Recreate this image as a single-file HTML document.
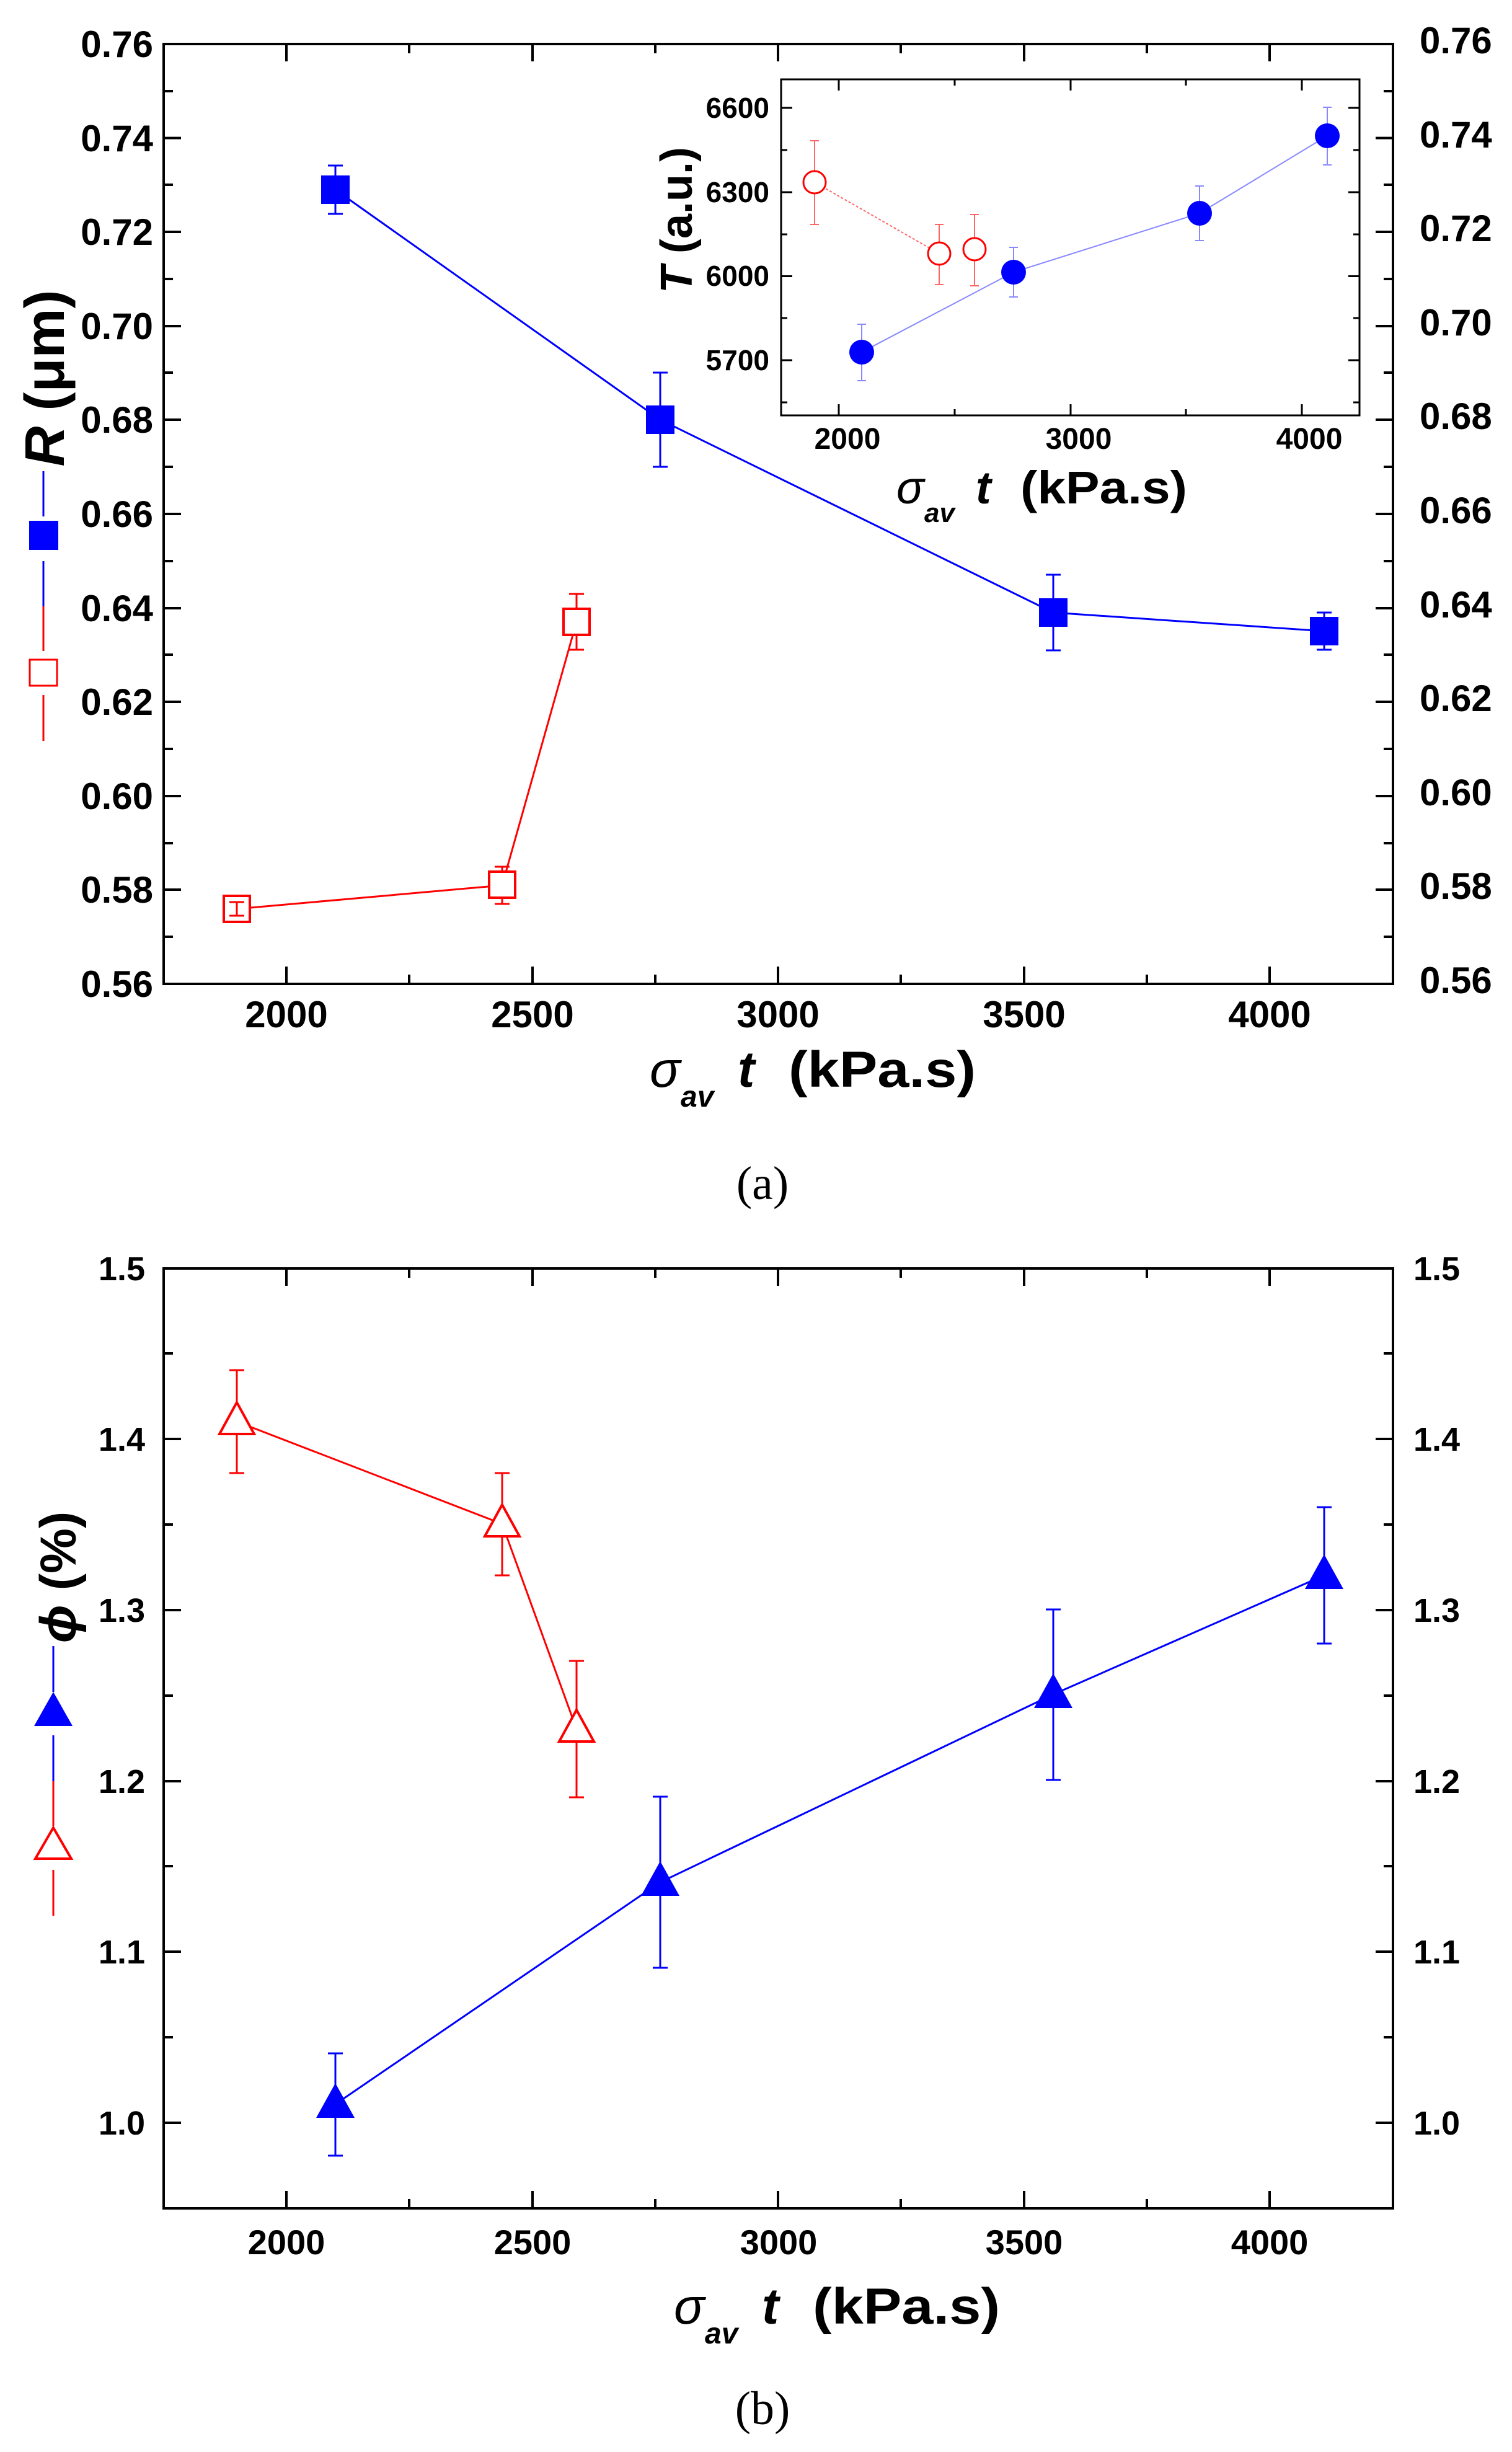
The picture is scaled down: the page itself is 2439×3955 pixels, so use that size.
<!DOCTYPE html>
<html><head><meta charset="utf-8"><style>
html,body{margin:0;padding:0;background:#fff;}
svg{display:block;}
text{font-family:"Liberation Sans",Arial,sans-serif;}
</style></head><body>
<svg width="2439" height="3955" viewBox="0 0 2439 3955" xmlns="http://www.w3.org/2000/svg">
<rect width="2439" height="3955" fill="#fff"/>

<g stroke="#000" stroke-width="4" fill="none">
<rect x="264" y="71" width="1983" height="1516"/>
</g>
<g stroke="#000" stroke-width="4">
<path d="M462,1587v-28M859,1587v-28M1255,1587v-28M1652,1587v-28M2048,1587v-28
M462,71v28M859,71v28M1255,71v28M1652,71v28M2048,71v28
M660,1587v-15M1057,1587v-15M1453,1587v-15M1850,1587v-15
M660,71v15M1057,71v15M1453,71v15M1850,71v15"/>
<path d="M264,222.6h28M264,374h28M264,526h28M264,677h28M264,829h28M264,981h28M264,1132h28M264,1284h28M264,1435h28
M2247,222.6h-28M2247,374h-28M2247,526h-28M2247,677h-28M2247,829h-28M2247,981h-28M2247,1132h-28M2247,1284h-28M2247,1435h-28
M264,147h15M264,298h15M264,450h15M264,601h15M264,753h15M264,905h15M264,1056h15M264,1208h15M264,1360h15M264,1511h15
M2247,147h-15M2247,298h-15M2247,450h-15M2247,601h-15M2247,753h-15M2247,905h-15M2247,1056h-15M2247,1208h-15M2247,1360h-15M2247,1511h-15"/>
</g>
<g font-size="60" font-weight="bold" text-anchor="end">
<text x="247" y="92">0.76</text><text x="247" y="244">0.74</text><text x="247" y="395">0.72</text>
<text x="247" y="547">0.70</text><text x="247" y="698">0.68</text><text x="247" y="850">0.66</text>
<text x="247" y="1002">0.64</text><text x="247" y="1153">0.62</text><text x="247" y="1305">0.60</text>
<text x="247" y="1456">0.58</text><text x="247" y="1608">0.56</text>
</g>
<g font-size="60" font-weight="bold" text-anchor="start">
<text x="2290" y="86">0.76</text><text x="2290" y="238">0.74</text><text x="2290" y="389">0.72</text>
<text x="2290" y="541">0.70</text><text x="2290" y="692">0.68</text><text x="2290" y="844">0.66</text>
<text x="2290" y="996">0.64</text><text x="2290" y="1147">0.62</text><text x="2290" y="1299">0.60</text>
<text x="2290" y="1450">0.58</text><text x="2290" y="1602">0.56</text>
</g>
<g font-size="60" font-weight="bold" text-anchor="middle">
<text x="462" y="1657">2000</text><text x="859" y="1657">2500</text><text x="1255" y="1657">3000</text>
<text x="1652" y="1657">3500</text><text x="2048" y="1657">4000</text>
</g>
<text x="1048" y="1753" font-size="82" font-style="italic">σ</text>
<text x="1098" y="1785" font-size="48" font-style="italic" font-weight="bold">av</text>
<text x="1190" y="1753" font-size="82" font-style="italic" font-weight="bold">t</text>
<text x="1272" y="1753" font-size="82" font-weight="bold" textLength="302" lengthAdjust="spacingAndGlyphs">(kPa.s)</text>
<text x="1230" y="1934" font-size="76" text-anchor="middle" style="font-family:'Liberation Serif',serif">(a)</text>
<text transform="translate(103,610) rotate(-90)" text-anchor="middle" font-size="90" font-weight="bold"><tspan font-style="italic">R</tspan> (μm)</text>
<line x1="70" y1="760" x2="70" y2="833" stroke="#00f" stroke-width="3"/>
<rect x="47" y="840" width="47" height="47" fill="#00f"/>
<line x1="70" y1="905" x2="70" y2="978" stroke="#00f" stroke-width="3"/>
<line x1="70" y1="978" x2="70" y2="1050" stroke="#f00" stroke-width="3"/>
<rect x="48" y="1064" width="44" height="42" fill="#fff" stroke="#f00" stroke-width="3"/>
<line x1="70" y1="1121" x2="70" y2="1195" stroke="#f00" stroke-width="3"/>

<g stroke="#f00" stroke-width="3" fill="none">
<polyline points="382,1466 810,1428 930,1003"/>
<path d="M810,1398v60M798,1398h24M798,1458h24"/>
<path d="M930,958v90M918,958h24M918,1048h24"/>
</g>
<g fill="#fff" stroke="#f00" stroke-width="4">
<rect x="361" y="1445" width="42" height="42"/>
<rect x="789" y="1406" width="42" height="42"/>
<rect x="909" y="982" width="42" height="42"/>
</g>
<g stroke="#f00" stroke-width="3"><path d="M382,1455v22M370,1455h24M370,1477h24"/></g>
<g stroke="#00f" stroke-width="3" fill="none">
<polyline points="541,306 1065,677 1699,988 2136,1018"/>
<path d="M541,267v78M529,267h24M529,345h24"/>
<path d="M1065,601v152M1053,601h24M1053,753h24"/>
<path d="M1699,927v122M1687,927h24M1687,1049h24"/>
<path d="M2136,988v60M2124,988h24M2124,1048h24"/>
</g>
<g fill="#00f">
<rect x="518" y="283" width="46" height="46"/>
<rect x="1042" y="654" width="46" height="46"/>
<rect x="1676" y="965" width="46" height="46"/>
<rect x="2113" y="995" width="46" height="46"/>
</g>

<rect x="1260" y="128" width="933" height="542" fill="#fff" stroke="#000" stroke-width="3"/>
<g stroke="#000" stroke-width="3">
<path d="M1353,670v-18M1727,670v-18M2100,670v-18M1540,670v-10M1913,670v-10
M1353,128v18M1727,128v18M2100,128v18M1540,128v10M1913,128v10
M1260,174h18M1260,310h18M1260,445.5h18M1260,581h18M1260,242h10M1260,378h10M1260,513h10M1260,649h10
M2193,174h-18M2193,310h-18M2193,445.5h-18M2193,581h-18M2193,242h-10M2193,378h-10M2193,513h-10M2193,649h-10"/>
</g>
<g font-size="46" font-weight="bold" text-anchor="end">
<text x="1241" y="190">6600</text><text x="1241" y="326">6300</text>
<text x="1241" y="461">6000</text><text x="1241" y="597">5700</text>
</g>
<g font-size="48" font-weight="bold" text-anchor="middle">
<text x="1367" y="724">2000</text><text x="1740" y="724">3000</text><text x="2112" y="724">4000</text>
</g>
<text x="1446" y="812" font-size="74" font-style="italic">σ</text>
<text x="1491" y="842" font-size="44" font-style="italic" font-weight="bold">av</text>
<text x="1574" y="812" font-size="74" font-style="italic" font-weight="bold">t</text>
<text x="1646" y="812" font-size="74" font-weight="bold" textLength="269" lengthAdjust="spacingAndGlyphs">(kPa.s)</text>
<text transform="translate(1116,355) rotate(-90)" text-anchor="middle" font-size="72" font-weight="bold"><tspan font-style="italic">T</tspan> (a.u.)</text>
<g stroke="#f66" stroke-width="2" fill="none">
<polyline points="1314,294 1515,409" stroke-dasharray="4,3"/>
<path d="M1314,227v135M1307,227h14M1307,362h14M1515,362v97M1508,362h14M1508,459h14M1572,346v115M1565,346h14M1565,461h14"/>
</g>
<g fill="#fff" stroke="#f00" stroke-width="3">
<circle cx="1314" cy="294" r="18"/><circle cx="1515" cy="409" r="18"/><circle cx="1572" cy="402" r="18"/>
</g>
<g stroke="#88f" stroke-width="2" fill="none">
<polyline points="1390,568 1635,439 1935,344 2141,219"/>
<path d="M1390,523v91M1383,523h14M1383,614h14M1635,399v80M1628,399h14M1628,479h14M1935,300v88M1928,300h14M1928,388h14M2141,173v93M2134,173h14M2134,266h14"/>
</g>
<g fill="#00f">
<circle cx="1390" cy="568" r="20"/><circle cx="1635" cy="439" r="20"/><circle cx="1935" cy="344" r="20"/><circle cx="2141" cy="219" r="20"/>
</g>

<rect x="264" y="2046" width="1983" height="1516" fill="none" stroke="#000" stroke-width="4"/>
<g stroke="#000" stroke-width="4">
<path d="M462,3562v-28M859,3562v-28M1255,3562v-28M1652,3562v-28M2048,3562v-28
M462,2046v28M859,2046v28M1255,2046v28M1652,2046v28M2048,2046v28
M660,3562v-15M1057,3562v-15M1453,3562v-15M1850,3562v-15
M660,2046v15M1057,2046v15M1453,2046v15M1850,2046v15
M264,2321h28M264,2597h28M264,2873h28M264,3148h28M264,3424h28
M2247,2321h-28M2247,2597h-28M2247,2873h-28M2247,3148h-28M2247,3424h-28
M264,2183h15M264,2459h15M264,2735h15M264,3010h15M264,3286h15
M2247,2183h-15M2247,2459h-15M2247,2735h-15M2247,3010h-15M2247,3286h-15"/>
</g>
<g font-size="54" font-weight="bold" text-anchor="end">
<text x="234" y="2065">1.5</text><text x="234" y="2340">1.4</text><text x="234" y="2616">1.3</text>
<text x="234" y="2892">1.2</text><text x="234" y="3167">1.1</text><text x="234" y="3443">1.0</text>
</g>
<g font-size="54" font-weight="bold" text-anchor="start">
<text x="2280" y="2065">1.5</text><text x="2280" y="2340">1.4</text><text x="2280" y="2616">1.3</text>
<text x="2280" y="2892">1.2</text><text x="2280" y="3167">1.1</text><text x="2280" y="3443">1.0</text>
</g>
<g font-size="56" font-weight="bold" text-anchor="middle">
<text x="462" y="3636">2000</text><text x="859" y="3636">2500</text><text x="1256" y="3636">3000</text>
<text x="1652" y="3636">3500</text><text x="2048" y="3636">4000</text>
</g>
<text x="1087" y="3748" font-size="82" font-style="italic">σ</text>
<text x="1137" y="3780" font-size="48" font-style="italic" font-weight="bold">av</text>
<text x="1229" y="3748" font-size="82" font-style="italic" font-weight="bold">t</text>
<text x="1311" y="3748" font-size="82" font-weight="bold" textLength="302" lengthAdjust="spacingAndGlyphs">(kPa.s)</text>
<text x="1230" y="3910" font-size="76" text-anchor="middle" style="font-family:'Liberation Serif',serif">(b)</text>
<text transform="translate(122,2544) rotate(-90)" text-anchor="middle" font-size="82" font-weight="bold"><tspan font-style="italic">ϕ</tspan> (%)</text>
<line x1="86" y1="2655" x2="86" y2="2729" stroke="#00f" stroke-width="3"/>
<polygon points="86,2729 55,2784 117,2784" fill="#00f"/>
<line x1="86" y1="2799" x2="86" y2="2873" stroke="#00f" stroke-width="3"/>
<line x1="86" y1="2873" x2="86" y2="2945" stroke="#f00" stroke-width="3"/>
<polygon points="86,2948 57,2998 115,2998" fill="#fff" stroke="#f00" stroke-width="4"/>
<line x1="86" y1="3016" x2="86" y2="3090" stroke="#f00" stroke-width="3"/>
<g stroke="#f00" stroke-width="3" fill="none">
<polyline points="382,2293 810,2458 930,2789"/>
<path d="M382,2210v166M370,2210h24M370,2376h24"/>
<path d="M810,2376v165M798,2376h24M798,2541h24"/>
<path d="M930,2679v220M918,2679h24M918,2899h24"/>
</g>
<g fill="#fff" stroke="#f00" stroke-width="4">
<polygon points="382,2262 354,2313 410,2313"/>
<polygon points="810,2427 782,2478 838,2478"/>
<polygon points="930,2758 902,2809 958,2809"/>
</g>
<g stroke="#00f" stroke-width="3" fill="none">
<polyline points="541,3394 1065,3036 1699,2733 2136,2541"/>
<path d="M541,3312v165M529,3312h24M529,3477h24"/>
<path d="M1065,2898v276M1053,2898h24M1053,3174h24"/>
<path d="M1699,2596v275M1687,2596h24M1687,2871h24"/>
<path d="M2136,2431v220M2124,2431h24M2124,2651h24"/>
</g>
<g fill="#00f">
<polygon points="541,3360 510,3416 572,3416"/>
<polygon points="1065,3002 1034,3058 1096,3058"/>
<polygon points="1699,2699 1668,2755 1730,2755"/>
<polygon points="2136,2507 2105,2563 2167,2563"/>
</g>
</svg>
</body></html>
